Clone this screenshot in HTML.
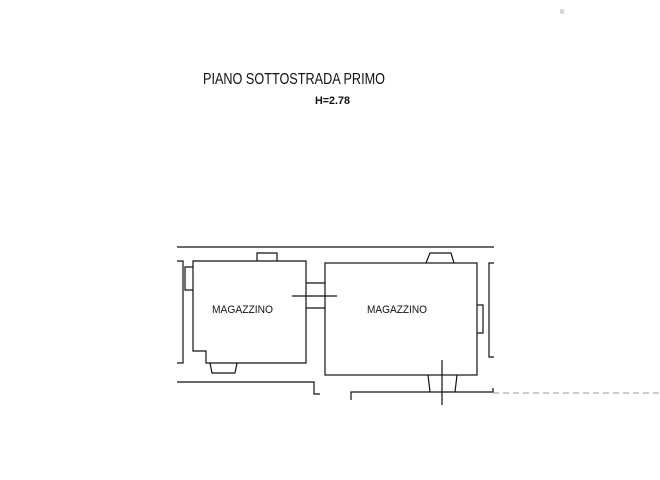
<!DOCTYPE html>
<html><head><style>html,body{margin:0;padding:0;background:#fff;width:660px;height:480px;overflow:hidden}</style></head>
<body>
<svg width="660" height="480" viewBox="0 0 660 480" xmlns="http://www.w3.org/2000/svg" font-family="Liberation Sans, sans-serif">
<g fill="none" stroke="#111" stroke-width="1.2">
<line x1="177" y1="247" x2="494" y2="247"/>
<polyline points="177,261 183,261 183,363 177,363"/>
<polyline points="193,267 185,267 185,290 193,290"/>
<polygon points="193,261 306,261 306,363 206,363 206,351 193,351"/>
<polyline points="257,261 257,253 277,253 277,261"/>
<polyline points="210,363 212,373 235,373 237,363"/>
<line x1="306" y1="283" x2="325" y2="283"/>
<line x1="306" y1="308" x2="325" y2="308"/>
<line x1="292" y1="296" x2="337" y2="296"/>
<rect x="325" y="263" width="152" height="112"/>
<polyline points="426,263 430,253 451,253 454,263"/>
<polyline points="477,305 483,305 483,333 477,333"/>
<polyline points="494,263 489,263 489,357 494,357"/>
<polyline points="428,375 430,392"/>
<polyline points="457,375 455,392"/>
<polyline points="351,400 351,392 493,392 493,388"/>
<line x1="442" y1="360" x2="442" y2="405"/>
<polyline points="177,382 314,382 314,394 320,394"/>
</g>
<line x1="493" y1="393" x2="660" y2="393" stroke="#999" stroke-width="1" stroke-dasharray="6,4"/>
<text x="203" y="84" font-size="15.5" fill="#111" textLength="182" lengthAdjust="spacingAndGlyphs">PIANO SOTTOSTRADA PRIMO</text>
<text x="315" y="104" font-size="11" font-weight="bold" fill="#111" textLength="35" lengthAdjust="spacingAndGlyphs">H=2.78</text>
<text x="212" y="313" font-size="11" fill="#111" textLength="61" lengthAdjust="spacingAndGlyphs">MAGAZZINO</text>
<text x="367" y="313" font-size="11" fill="#111" textLength="60" lengthAdjust="spacingAndGlyphs">MAGAZZINO</text>
<text x="560" y="14" font-size="6" fill="#888">®</text>
</svg>
</body></html>
